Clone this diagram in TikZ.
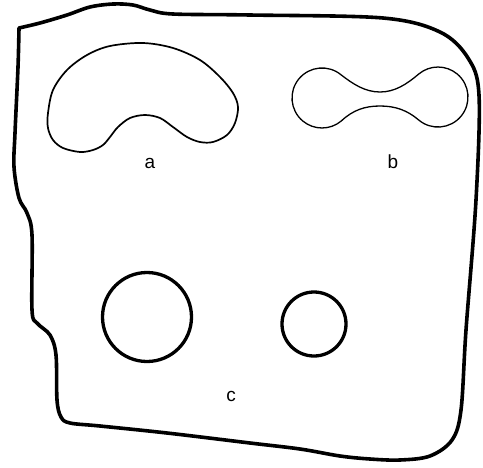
\documentclass[tikz,border=0pt]{standalone}
\usepackage{fontspec}
\setmainfont{Liberation Sans}
\usepackage{tikz}
\usetikzlibrary{positioning}

\begin{document}
\begin{tikzpicture}[x=1pt,y=-1pt,
    outline/.style={line width=3.6pt,line join=round},
    blob/.style={line width=1.7pt},
    hole/.style={circle,draw,line width=3.3pt,inner sep=0pt},
    lbl/.style={font=\fontsize{19}{22}\selectfont,inner sep=0pt}]
  \useasboundingbox (0,0) rectangle (483,467);
  % outer boundary
  \draw[outline] plot[smooth,tension=0.55] coordinates {
    (19,28) (40,23) (67,15) (90,7) (113,4) (133,5) (150,10) (173,14)
    (250,15) (383,18) (440,32) (468,58) (479,95) (476,200) (466,330)
    (461,410) (452,440) (430,456) (400,460) (370,459) (340,456)
    (300,449) (250,443) (167,433) (100,426) (70,423) (61,417)
    (57,400) (56,355) (50,335) (37,323) (32,310) (32,235) (27,213)
    (19,198) (14,167) (15,133) (18,67) (19,28)} -- cycle;
  % shape a
  \draw[blob] plot[smooth cycle,tension=0.55] coordinates {
    (48,113) (53,90) (67,70) (87,55) (110,46) (143,43) (173,48) (200,60)
    (220,77) (233,93) (238,107) (235,123) (227,135) (213,142) (200,142)
    (187,137) (173,127) (160,118) (145,115) (130,118) (118,127)
    (110,137) (103,145) (93,150) (80,152) (63,148) (53,140) (48,128)};
  % shape b: two lobes and a neck
  \draw[blob,line width=1.3pt] (341.3,75)
    arc[start angle=-50,end angle=-310,radius=30]
    .. controls (353,110) and (365,106) .. (380,106)
    .. controls (395,106) and (407,110) .. (418.7,120)
    arc[start angle=130,end angle=-130,radius=30]
    .. controls (407,84) and (395,92) .. (380,92)
    .. controls (365,92) and (353,84) .. cycle;
  % circles c
  \node[hole,minimum size=89pt] (c1) at (147,317) {};
  \node[hole,minimum size=64pt] (c2) at (314,324) {};
  % labels
  \node[lbl] (la) at (150,163) {a};
  \node[lbl] (lb) at (393,162) {b};
  \node[lbl] (lc) at (231,396) {c};
\end{tikzpicture}
\end{document}
